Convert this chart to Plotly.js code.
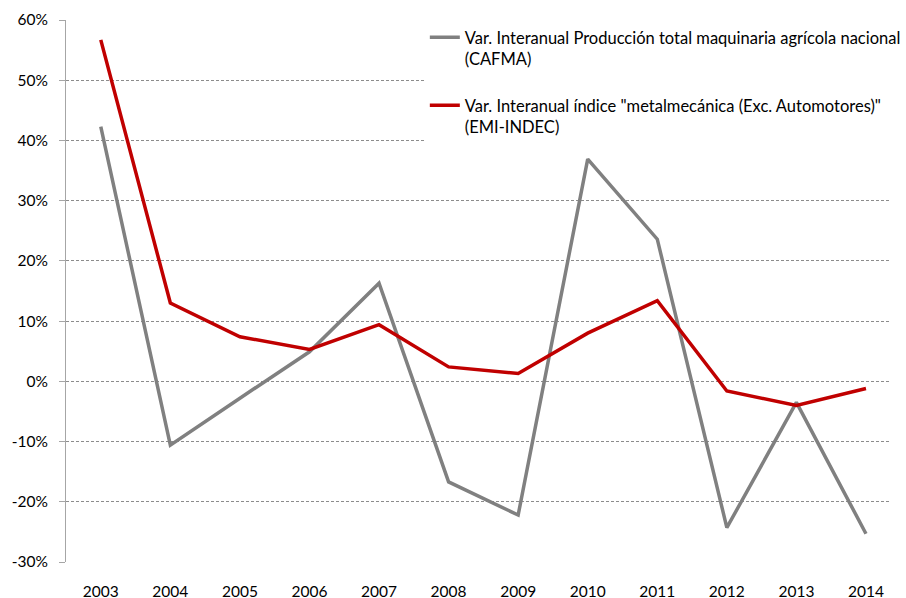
<!DOCTYPE html>
<html>
<head>
<meta charset="utf-8">
<script src="https://cdn.plot.ly/plotly-3.0.1.min.js"></script>
<style>
  html, body { margin: 0; padding: 0; background: #fff; }
  #chart { width: 906px; height: 598px; }
</style>
</head>
<body>
<div id="chart"></div>
<script>
// Años (categorías del eje X)
const years = ['2003', '2004', '2005', '2006', '2007', '2008', '2009', '2010', '2011', '2012', '2013', '2014'];

// Var. interanual producción maquinaria agrícola (CAFMA), en %
const maquinaria = [42.3, -10.6, -2.8, 4.9, 16.3, -16.7, -22.2, 36.9, 23.6, -24.3, -3.5, -25.3];

// Var. interanual índice metalmecánica exc. automotores (EMI-INDEC), en %
const metalmecanica = [56.7, 13.0, 7.4, 5.3, 9.4, 2.4, 1.3, 8.0, 13.4, -1.6, -4.0, -1.2];

const yTicks = [-30, -20, -10, 0, 10, 20, 30, 40, 50, 60];
const yTickLabels = ['-30%', '-20%', '-10%', '0%', '10%', '20%', '30%', '40%', '50%', '60%'];

const nameMaq = 'Var. Interanual Producción total maquinaria agrícola nacional<br>(CAFMA)';
const nameMetal = 'Var. Interanual índice "metalmecánica (Exc. Automotores)"<br>(EMI-INDEC)';

const font = 'Lato, "Open Sans", sans-serif';
const xMax = -0.5 + 840 / 71;

const traces = [
  {
    x: years, y: maquinaria, name: nameMaq, type: 'scatter', mode: 'lines',
    line: { color: '#808080', width: 3.5 }, legendgroup: 'a'
  },
  {
    x: years, y: metalmecanica, name: nameMetal, type: 'scatter', mode: 'lines',
    line: { color: '#c00000', width: 3.5 }, legendgroup: 'b'
  }
];

const layout = {
  width: 906,
  height: 598,
  margin: { l: 66, r: 0, t: 20, b: 36 },
  paper_bgcolor: '#fff',
  plot_bgcolor: '#fff',
  font: { family: font, size: 15, color: '#000' },
  showlegend: true,
  legend: {
    x: 0.436, y: 1, xanchor: 'left', yanchor: 'top',
    bgcolor: '#fff', borderwidth: 0, valign: 'top',
    tracegroupgap: 22, itemwidth: 30,
    font: { family: font, size: 16.5, color: '#000' }
  },
  xaxis: {
    type: 'category',
    range: [-0.5, xMax],
    showgrid: false, zeroline: false, showline: false,
    ticks: '', ticklabelstandoff: 18,
    tickfont: { family: font, size: 15.5, color: '#000' }
  },
  // línea del 0% con marcas entre categorías
  xaxis2: {
    overlaying: 'x', anchor: 'free', position: 1 / 3,
    range: [-0.5, xMax],
    tickvals: years.slice(1).map((_, i) => i + 0.5),
    showticklabels: false, showgrid: false, zeroline: false,
    showline: true, linecolor: '#a6a6a6', linewidth: 2,
    ticks: 'outside', ticklen: 5, tickcolor: '#a6a6a6', tickwidth: 1
  },
  yaxis: {
    range: [-30, 60],
    tickvals: yTicks,
    ticktext: yTickLabels,
    showgrid: true, gridcolor: '#8c8c8c', gridwidth: 1, griddash: '3px,2px',
    zeroline: false,
    showline: true, linecolor: '#a6a6a6', linewidth: 1,
    ticks: 'outside', ticklen: 6, tickcolor: '#a6a6a6',
    ticklabelstandoff: 8,
    tickfont: { family: font, size: 15.5, color: '#000' }
  }
};

Plotly.newPlot('chart', traces, layout, { displayModeBar: false, staticPlot: true });
</script>
</body>
</html>
